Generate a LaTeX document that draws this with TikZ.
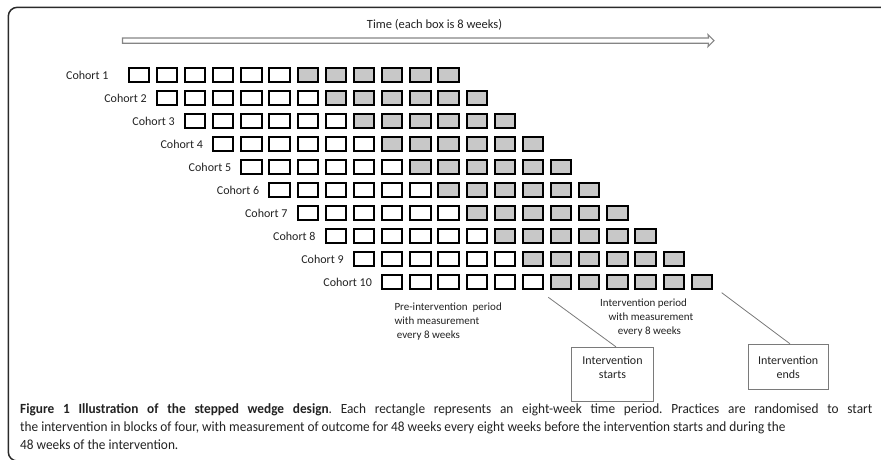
\documentclass[tikz,border=0pt]{standalone}
\usepackage{fontspec}
\setmainfont{Carlito}
\newfontfamily\capfont[FakeStretch=0.95]{Carlito}
\definecolor{cellgray}{HTML}{C8C8C8}
\definecolor{txt}{HTML}{222222}
\definecolor{framecol}{HTML}{2A2A2A}
\definecolor{arrowcol}{HTML}{858585}
\definecolor{thin}{HTML}{7A7A7A}
\frenchspacing
\begin{document}
\begin{tikzpicture}[x=1pt,y=-1pt,
  cell/.style={draw=black,line width=2pt,minimum width=20.3pt,minimum height=14.7pt,inner sep=0pt,outer sep=0pt},
  lab/.style={font=\fontsize{12}{14}\selectfont,text=txt,inner sep=0pt,anchor=east},
  note/.style={font=\fontsize{11}{14}\selectfont,text=txt,inner sep=0pt,align=left,anchor=north west},
  calbox/.style={draw=thin,line width=0.9pt,align=center,font=\fontsize{12}{14}\selectfont,text=txt,inner sep=0pt},
  conn/.style={draw=thin,line width=0.8pt},
  capline/.style={font=\capfont\fontsize{14}{16}\selectfont,text=txt,inner sep=0pt,anchor=base west}]
\useasboundingbox (0,0) rectangle (881,459);
% frame
\draw[framecol,line width=1.5pt,rounded corners=9pt] (900,461) -- (8.3,461) -- (8.3,7.3) -- (900,7.3);
% time label and arrow
\node[font=\fontsize{12.5}{14}\selectfont,text=txt,inner sep=0pt] (time) at (434.5,25) {Time (each box is 8 weeks)};
\draw[arrowcol,line width=1.1pt,fill=white,line join=miter]
  (122.5,38) -- (708.5,38) -- (708,34.6) -- (714,40.6) -- (708,46.6) -- (708.5,43.2) -- (122.5,43.2) -- cycle;
% cells
\foreach \r in {0,...,9}{
  \foreach \c in {0,...,5}{
    \node[cell,fill=white] (b-\r-\c) at ({138.85+28.15*(\r+\c)},{75+23*\r}) {};
  }
  \foreach \c in {6,...,11}{
    \node[cell,fill=cellgray] (b-\r-\c) at ({138.85+28.15*(\r+\c)},{75+23*\r}) {};
  }
}
% cohort labels
\node[lab] (c1) at ([xshift=-20pt]b-0-0.west) {Cohort 1};
\foreach \r/\n in {1/2,2/3,3/4,4/5,5/6,6/7,7/8,8/9,9/10}{
  \node[lab] (c\n) at ([xshift=-10pt]b-\r-0.west) {Cohort \n};
}
% period notes
\node[note] (pre) at (394.3,302.6) {Pre-intervention\ \ period\\with measurement\\\hspace*{2.4pt}every 8 weeks};
\node[note] (int) at (600,299) {Intervention period\\\hspace*{8.3pt}with measurement\\\hspace*{17.7pt}every 8 weeks};
% start/end boxes
\node[calbox,minimum width=82pt,minimum height=54pt] (starts) at (612.5,374.3) {Intervention\\starts\\\mbox{}};
\node[calbox,minimum width=79.5pt,minimum height=45.5pt] (ends) at (788.2,367) {Intervention\\ends};
\coordinate (s0) at (548.3,297.3);
\coordinate (e0) at (721.7,292.7);
\draw[conn] (s0) -- ([xshift=3.5pt]starts.north);
\draw[conn] (e0) -- ([xshift=1.8pt]ends.north);
% caption
\node[capline] (cap1) at (20,413.5) {\makebox[852pt][s]{\textbf{Figure 1 Illustration of the stepped wedge design}. Each rectangle represents an eight-week time period. Practices are randomised to start}};
\node[capline] (cap2) at (20,431.5) {the intervention in blocks of four, with measurement of outcome for 48 weeks every eight weeks before the intervention starts and during the};
\node[capline] (cap3) at (20,449.5) {48 weeks of the intervention.};
\end{tikzpicture}
\end{document}
